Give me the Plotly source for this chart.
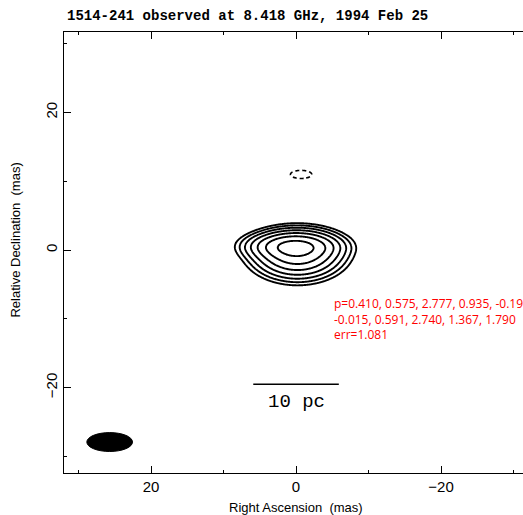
import numpy as np
import plotly.graph_objects as go

title_text = "1514-241 observed at 8.418 GHz, 1994 Feb 25"
x_title = "Right Ascension\u00a0\u00a0(mas)"
y_title = "Relative Declination\u00a0\u00a0(mas)"
tick_vals = [-20, 0, 20]
tick_text = ["\u221220", "0", "20"]

levels = np.array([0.672, 0.336, 0.168, 0.084, 0.042, 0.021, 0.0105])
xl = np.array([2.5,4.3,5.7,6.5,7.0,7.6,8.3])
xr = np.array([-2.5,-4.4,-5.7,-6.3,-6.8,-7.3,-7.9])
yt = np.array([1.3,2.0,2.5,2.9,3.3,3.6,3.9])
yb = np.array([-0.73,-2.2,-2.9,-3.6,-4.1,-4.6,-5.2])

neg_x, neg_y, neg_amp, neg_sx, neg_sy = -0.7, 11.0, 0.02, 1.25, 0.5
neg_level = 0.01
beam_x, beam_y, beam_major, beam_minor = 25.7, -27.9, 6.3, 2.75
bar_center_x, bar_y, bar_len_mas, bar_label = 0.0, -19.5, 11.8, "10 pc"

def model(p, X, Y):
    cx,cy,csx,csy,bx,by,ba,bsx,bsyn,bsys = p
    f = (1-ba)*np.exp(-0.5*(((X-cx)/csx)**2+((Y-cy)/csy)**2))
    sy = np.where(Y>=by, bsyn, bsys)
    f = f + ba*np.exp(-0.5*(((X-bx)/bsx)**2+((Y-by)/sy)**2))
    return f

gxc = np.linspace(-3,3,61); gyc=np.linspace(-2,2,41)
GX,GY=np.meshgrid(gxc,gyc)
t = np.arange(0, 12, 0.02)
def crossings(f0, prof):
    return np.array([t[np.argmax(prof < L*f0)] for L in levels])
def cost(p):
    f0 = model(p,GX,GY).max()
    cl = crossings(f0, model(p, t, 0.3+0*t))
    cr = -crossings(f0, model(p, -t, 0.3+0*t))
    ct = 0.3+crossings(f0, model(p, 0*t, 0.3+t))
    cb = 0.3-crossings(f0, model(p, 0*t, 0.3-t))
    return np.sum((cl-xl)**2)+np.sum((cr-xr)**2)+np.sum((ct-yt)**2)+np.sum((cb-yb)**2)

rng = np.random.default_rng(1)
p = np.array([-0.3,0.35,2.7,0.9,0.8,0.0,0.45,2.9,1.3,1.85])
lo = np.array([-2,-1,1.0,0.5,-3,-3,0.05,1.0,0.5,0.5])
hi = np.array([2,2,5,3,3,2,0.95,6,4,4])
best = cost(p)
step = np.array([0.3,0.3,0.3,0.2,0.3,0.3,0.1,0.3,0.3,0.3])
for it in range(8000):
    sc = 1.0 if it<3000 else (0.4 if it < 6000 else 0.15)
    q = np.clip(p + rng.normal(0,1,10)*step*sc*(rng.random(10)<0.4), lo, hi)
    c = cost(q)
    if c < best:
        best, p = c, q
dbg = "p=" + ", ".join(f"{v:.3f}" for v in p[:5]) + "<br>" + ", ".join(f"{v:.3f}" for v in p[5:]) + f"<br>err={best:.3f}"

gx = np.arange(-16, 16.01, 0.1)
gy = np.arange(-10, 14.01, 0.1)
X, Y = np.meshgrid(gx, gy)
I = model(p, X, Y)
Zpos = np.log2(np.maximum(I / I.max(), 1e-6))
Ineg = neg_amp * np.exp(-0.5 * (((X - neg_x) / neg_sx) ** 2 + ((Y - neg_y) / neg_sy) ** 2))
lv = np.log2(levels[::-1])
black = [[0, "black"], [1, "black"]]

fig = go.Figure()
fig.add_trace(go.Contour(x=gx, y=gy, z=Zpos, autocontour=False,
    contours=dict(start=lv[0], end=lv[-1], size=1.0, coloring="lines"),
    colorscale=black, showscale=False, line=dict(width=1.9, color="black"), hoverinfo="skip"))
fig.add_trace(go.Contour(x=gx, y=gy, z=Ineg, autocontour=False,
    contours=dict(start=neg_level, end=neg_level, size=1, coloring="lines"),
    colorscale=black, showscale=False, line=dict(width=1.6, color="black", dash="4px,3px"), hoverinfo="skip"))
fig.add_shape(type="circle", xref="x", yref="y",
              x0=beam_x - beam_major / 2, x1=beam_x + beam_major / 2,
              y0=beam_y - beam_minor / 2, y1=beam_y + beam_minor / 2,
              fillcolor="black", line=dict(color="black", width=1))
fig.add_shape(type="line", xref="x", yref="y",
              x0=bar_center_x + bar_len_mas / 2, x1=bar_center_x - bar_len_mas / 2,
              y0=bar_y, y1=bar_y, line=dict(color="black", width=1.3))
fig.add_annotation(x=bar_center_x, y=bar_y - 2.6, xref="x", yref="y", text=bar_label,
                   showarrow=False, font=dict(family="Liberation Mono", size=19, color="black"))
fig.add_annotation(x=0.002, y=1.036, xref="paper", yref="paper", xanchor="left", yanchor="middle",
                   text="<b>" + title_text + "</b>", showarrow=False,
                   font=dict(family="Liberation Mono", size=14, color="black"))
fig.add_annotation(x=0, y=-0.078, xref="x", yref="paper", text=x_title, showarrow=False,
                   yanchor="middle", font=dict(family="Liberation Sans", size=13, color="black"))
fig.add_annotation(x=-0.105, y=1.5, xref="paper", yref="y", text=y_title, showarrow=False,
                   textangle=-90, xanchor="center", font=dict(family="Liberation Sans", size=13, color="black"))
fig.add_annotation(x=-5, y=-10, xref="x", yref="y", text=dbg, showarrow=False, align="left",
                   xanchor="left", font=dict(size=12, color="red"))

axis_common = dict(showline=True, linecolor="black", linewidth=1.2,
                   ticks="inside", ticklen=7, tickwidth=1, tickcolor="black",
                   tickvals=tick_vals, ticktext=tick_text, showgrid=False, zeroline=False,
                   tickfont=dict(family="Liberation Sans", size=15, color="black"),
                   minor=dict(ticks="inside", ticklen=3, dtick=10, tickcolor="black", showgrid=False))
fig.update_xaxes(range=[32.0, -31.3], mirror="ticks", **axis_common)
fig.update_yaxes(range=[-32.4, 31.7], tickangle=-90, mirror=False, **axis_common)
fig.update_layout(width=523, height=515, margin=dict(l=64, r=0, t=32, b=42),
                  plot_bgcolor="white", paper_bgcolor="white", showlegend=False)
fig.write_html("out.html")
